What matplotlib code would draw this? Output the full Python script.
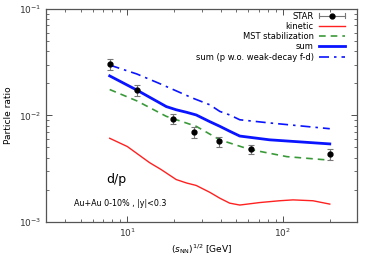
import numpy as np
import matplotlib
matplotlib.use("Agg")
import matplotlib.pyplot as plt
from matplotlib.ticker import LogLocator, NullFormatter
from matplotlib.legend_handler import HandlerBase
from matplotlib.lines import Line2D

# STAR d/p data
star_e = [7.7, 11.5, 19.6, 27, 39, 62.4, 200]
star_r = [0.0303, 0.0173, 0.0093, 0.0070, 0.0057, 0.0048, 0.0043]
star_err = [0.0035, 0.0020, 0.0010, 0.0008, 0.0006, 0.0005, 0.0005]

# model curves
kin_e = [7.7, 10, 13.9, 16.5, 20.6, 24, 27.7, 33.8, 39.3, 45.5, 52.8, 71, 95, 116, 156, 200]
kin_r = [0.0061, 0.0051, 0.0036, 0.0031, 0.0025, 0.00232, 0.0022, 0.0019, 0.00167, 0.00150,
         0.00144, 0.00152, 0.00158, 0.00161, 0.00158, 0.00147]

mst_e = [7.7, 11.5, 17.8, 27.7, 39.3, 61, 106, 200]
mst_r = [0.0175, 0.0137, 0.0098, 0.0079, 0.0059, 0.0048, 0.0041, 0.0038]

sum_e = [7.7, 11.5, 17.8, 20.6, 24, 27.7, 33.8, 39.3, 45.5, 52.8, 82, 200]
sum_r = [0.0235, 0.0173, 0.0121, 0.0113, 0.0107, 0.0101, 0.00875, 0.0079, 0.0071, 0.0064,
         0.0059, 0.0054]

sumw_e = [7.7, 11.5, 16, 26.4, 33.8, 39.3, 45.5, 52.8, 82, 200]
sumw_r = [0.0297, 0.0245, 0.020, 0.0145, 0.0126, 0.0109, 0.0101, 0.0091, 0.0085, 0.0075]


class ErrHandler(HandlerBase):
    # horizontal error bar with caps and a dot, like gnuplot's key
    def create_artists(self, legend, orig, xd, yd, w, h, fontsize, trans):
        y = yd + h / 2
        bar = Line2D([xd, xd + w], [y, y], color='#777777', lw=0.8, transform=trans)
        c1 = Line2D([xd, xd], [y - 2, y + 2], color='#777777', lw=0.8, transform=trans)
        c2 = Line2D([xd + w, xd + w], [y - 2, y + 2], color='#777777', lw=0.8, transform=trans)
        dot = Line2D([xd + w / 2], [y], marker='o', ms=3.5, color='black', transform=trans)
        return [bar, c1, c2, dot]


fig = plt.figure(figsize=(3.74, 2.62), dpi=100)
ax = fig.add_axes([0.123, 0.153, 0.832, 0.813])

h_star = ax.errorbar(star_e, star_r, yerr=star_err, fmt='o', color='black', ms=3.5,
                     ecolor='#777777', elinewidth=0.8, capsize=2, capthick=0.8, zorder=5)
h_kin, = ax.plot(kin_e, kin_r, color='#ff2020', lw=1.0)
h_mst, = ax.plot(mst_e, mst_r, color='#3a9a3a', lw=1.2, ls=(0, (4, 3)))
h_sum, = ax.plot(sum_e, sum_r, color='#0a14ff', lw=2.0)
h_sumw, = ax.plot(sumw_e, sumw_r, color='#0a14ff', lw=1.2, ls=(0, (6, 3, 1.5, 3)))

ax.set_xscale('log')
ax.set_yscale('log')
ax.set_xlim(3, 300)
ax.set_ylim(1e-3, 1e-1)

ax.xaxis.set_major_locator(LogLocator(base=10, numticks=10))
ax.xaxis.set_minor_locator(LogLocator(base=10, subs=np.arange(2, 10), numticks=20))
ax.xaxis.set_minor_formatter(NullFormatter())
ax.yaxis.set_minor_locator(LogLocator(base=10, subs=np.arange(2, 10), numticks=20))
ax.yaxis.set_minor_formatter(NullFormatter())

ax.tick_params(which='both', direction='in', top=True, right=True, labelsize=6.5, colors='#333333')
ax.tick_params(which='major', length=4, width=0.6)
ax.tick_params(which='minor', length=2, width=0.5)
for s in ax.spines.values():
    s.set_color('#555555')
    s.set_linewidth(0.9)

ax.set_xlabel(r'$(s_{\rm NN})^{1/2}$ [GeV]', fontsize=6.5, labelpad=2)
ax.set_ylabel('Particle ratio', fontsize=6.5, labelpad=4)

ax.text(0.225, 0.20, 'd/p', transform=ax.transAxes, fontsize=9, ha='center', va='center')
ax.text(0.24, 0.085, 'Au+Au 0-10% , |y|<0.3', transform=ax.transAxes, fontsize=5.8,
        ha='center', va='center')

leg = ax.legend([h_star, h_kin, h_mst, h_sum, h_sumw],
                ['STAR', 'kinetic', 'MST stabilization', 'sum', 'sum (p w.o. weak-decay f-d)'],
                handler_map={type(h_star): ErrHandler()},
                loc='upper right', bbox_to_anchor=(0.973, 1.003), fontsize=6, frameon=False,
                markerfirst=False, handlelength=3.2, handletextpad=0.6, labelspacing=0.15,
                borderaxespad=0.0)
for t in leg.get_texts():
    t.set_ha('right')

fig.savefig('out.png', dpi=100)
